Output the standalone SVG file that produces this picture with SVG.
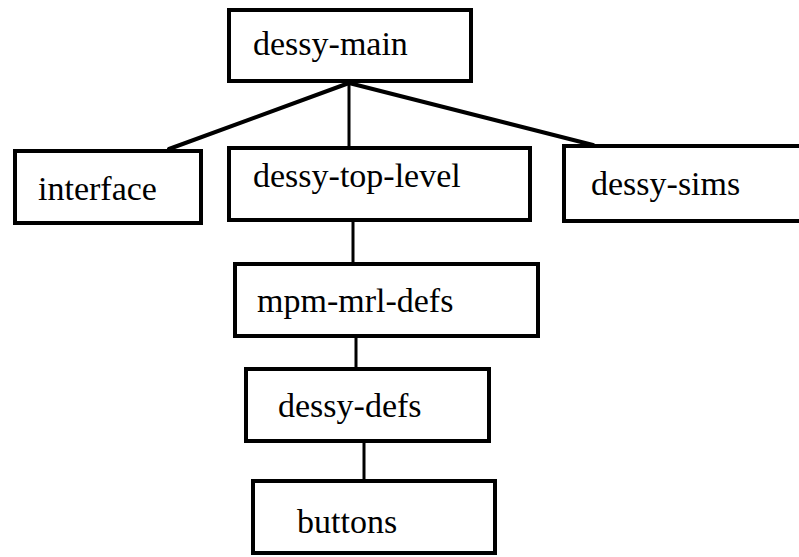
<svg xmlns="http://www.w3.org/2000/svg" width="799" height="557" viewBox="0 0 799 557">
<style>
.box{fill:#fff;stroke:#000;stroke-width:4}
.lbl{font-size:34px;fill:#000}
.edge{stroke:#000;stroke-width:4;fill:none;stroke-linecap:round}
.thin{stroke-width:3}
</style>
<rect width="799" height="557" fill="#fff"/>
<g id="connectors">
<line class="edge" x1="349" y1="83" x2="169" y2="149"/>
<line class="edge thin" x1="349" y1="83" x2="349" y2="147"/>
<line class="edge" x1="349" y1="83" x2="593" y2="145"/>
<line class="edge thin" x1="353" y1="222" x2="353" y2="262"/>
<line class="edge thin" x1="356" y1="338" x2="356" y2="367"/>
<line class="edge thin" x1="364" y1="443" x2="364" y2="479"/>
</g>
<g font-family="'Liberation Serif', 'DejaVu Serif', 'Times New Roman', serif">
<g id="dessy-main"><rect class="box" x="229" y="10" width="242" height="71"/><text class="lbl" x="253" y="55">dessy-main</text></g>
<g id="interface"><rect class="box" x="15" y="151" width="186" height="72"/><text class="lbl" x="38" y="200">interface</text></g>
<g id="dessy-top-level"><rect class="box" x="229" y="148" width="301" height="72"/><text class="lbl" x="253" y="187">dessy-top-level</text></g>
<g id="dessy-sims"><rect class="box" x="564" y="146" width="240" height="75"/><text class="lbl" x="591" y="195">dessy-sims</text></g>
<g id="mpm-mrl-defs"><rect class="box" x="235" y="264" width="303" height="72"/><text class="lbl" x="257" y="312">mpm-mrl-defs</text></g>
<g id="dessy-defs"><rect class="box" x="246" y="369" width="243" height="72"/><text class="lbl" x="278" y="417">dessy-defs</text></g>
<g id="buttons"><rect class="box" x="253" y="481" width="242" height="72"/><text class="lbl" x="297" y="533">buttons</text></g>
</g>
</svg>
